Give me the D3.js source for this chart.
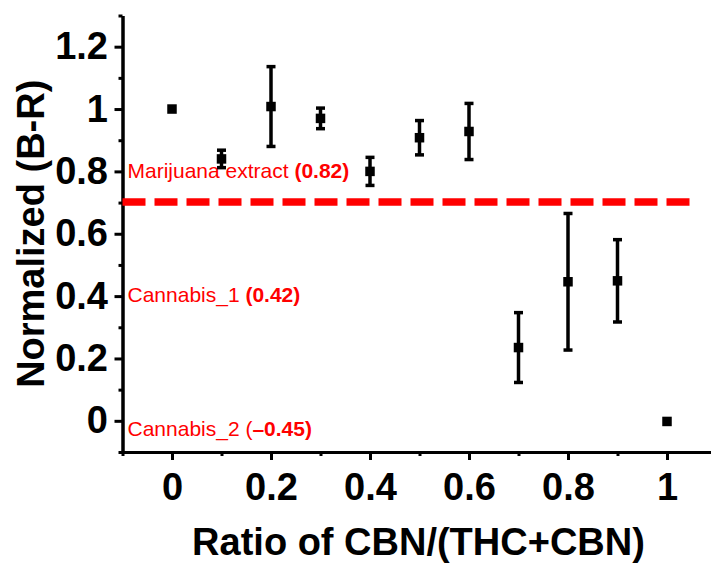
<!DOCTYPE html>
<html>
<head>
<meta charset="utf-8">
<script src="https://cdn.jsdelivr.net/npm/d3@7"></script>
<style>
  html, body { margin: 0; padding: 0; background: #fff; }
  svg { display: block; }
</style>
</head>
<body>
<svg id="chart" width="711" height="563"></svg>
<script>
// data
const ratios = [0, 0.1, 0.2, 0.3, 0.4, 0.5, 0.6, 0.7, 0.8, 0.9, 1.0];
const normBR = [1.0, 0.84, 1.008, 0.97, 0.8, 0.908, 0.928, 0.235, 0.446, 0.449, -0.002];
const errBR = [0, 0.028, 0.128, 0.033, 0.045, 0.055, 0.09, 0.112, 0.219, 0.132, 0];

const xTicks = [0, 0.2, 0.4, 0.6, 0.8, 1];
const xTickLabels = ["0", "0.2", "0.4", "0.6", "0.8", "1"];
const yTicks = [0, 0.2, 0.4, 0.6, 0.8, 1.0, 1.2];
const yTickLabels = ["0", "0.2", "0.4", "0.6", "0.8", "1", "1.2"];

const refValue = 0.702; // dashed red reference line
const noteNames = ["Marijuana extract ", "Cannabis_1 ", "Cannabis_2 ("];
const noteValues = ["(0.82)", "(0.42)", "\u20130.45)"];
const noteLevels = [0.778, 0.382, -0.05];

const svg = d3.select("svg#chart");
const font = "'Liberation Sans', Arial, sans-serif";

const x = d3.scaleLinear().domain([-0.1, 1.1]).range([122.5, 716.5]);
const y = d3.scaleLinear().domain([-0.1, 1.3]).range([452, 15.5]);

const minorX = d3.range(-1, 12).map((i) => i / 10).filter((v) => Math.round(v * 10) % 2 !== 0);
const minorY = d3.range(-1, 14).map((i) => i / 10).filter((v) => Math.round(v * 10) % 2 !== 0);

function styleAxis(g) {
  g.selectAll(".domain").attr("stroke", "#000").attr("stroke-width", 3);
  g.selectAll(".tick line").attr("stroke", "#000").attr("stroke-width", 3);
  g.selectAll(".tick text")
    .attr("fill", "#000")
    .style("font-family", font)
    .style("font-weight", "bold")
    .style("font-size", "38px");
}

// minor ticks first
svg.append("g")
  .attr("transform", `translate(0, ${y(-0.1)})`)
  .call(d3.axisBottom(x).tickValues(minorX).tickSize(4).tickSizeOuter(0).tickFormat(""))
  .call(styleAxis);
svg.append("g")
  .attr("transform", `translate(${x(-0.1)}, 0)`)
  .call(d3.axisLeft(y).tickValues(minorY).tickSize(4).tickSizeOuter(0).tickFormat(""))
  .call(styleAxis);

// major ticks with labels
svg.append("g")
  .attr("class", "x axis")
  .attr("transform", `translate(0, ${y(-0.1)})`)
  .call(
    d3.axisBottom(x)
      .tickValues(xTicks)
      .tickSize(8)
      .tickSizeOuter(0)
      .tickPadding(13)
      .tickFormat((d, i) => xTickLabels[i])
  )
  .call(styleAxis);

svg.append("g")
  .attr("class", "y axis")
  .attr("transform", `translate(${x(-0.1)}, 0)`)
  .call(
    d3.axisLeft(y)
      .tickValues(yTicks)
      .tickSize(8)
      .tickSizeOuter(0)
      .tickPadding(6.5)
      .tickFormat((d, i) => yTickLabels[i])
  )
  .call(styleAxis);

// axis titles
svg.append("text")
  .attr("x", (x(-0.1) + x(1.1)) / 2 - 1)
  .attr("y", 555)
  .attr("text-anchor", "middle")
  .style("font-family", font)
  .style("font-weight", "bold")
  .style("font-size", "38px")
  .text("Ratio of CBN/(THC+CBN)");

svg.append("text")
  .attr("transform", `translate(44, ${(y(-0.1) + y(1.3)) / 2}) rotate(-90)`)
  .attr("text-anchor", "middle")
  .style("font-family", font)
  .style("font-weight", "bold")
  .style("font-size", "38px")
  .text("Normalized (B-R)");

// reference line
svg.append("line")
  .attr("x1", x(-0.1))
  .attr("x2", x(1.055))
  .attr("y1", y(refValue))
  .attr("y2", y(refValue))
  .attr("stroke", "#ff0000")
  .attr("stroke-width", 7.5)
  .attr("stroke-dasharray", "23 9");

// annotations
noteNames.forEach((name, i) => {
  const t = svg.append("text")
    .attr("x", 127.5)
    .attr("y", y(noteLevels[i]))
    .attr("fill", "#ff0000")
    .style("font-family", font)
    .style("font-size", "21px");
  t.append("tspan").text(name);
  t.append("tspan").style("font-weight", "bold").text(noteValues[i]);
});

// error bars and markers
const pts = ratios.map((r, i) => ({ r, v: normBR[i], e: errBR[i] }));
const bars = svg.append("g").selectAll("g").data(pts.filter((d) => d.e > 0)).join("g");
bars.append("line")
  .attr("x1", (d) => x(d.r))
  .attr("x2", (d) => x(d.r))
  .attr("y1", (d) => y(d.v - d.e))
  .attr("y2", (d) => y(d.v + d.e))
  .attr("stroke", "#000")
  .attr("stroke-width", 3.5);
[-1, 1].forEach((s) => {
  bars.append("line")
    .attr("x1", (d) => x(d.r) - 4.5)
    .attr("x2", (d) => x(d.r) + 4.5)
    .attr("y1", (d) => y(d.v + s * d.e))
    .attr("y2", (d) => y(d.v + s * d.e))
    .attr("stroke", "#000")
    .attr("stroke-width", 3.5);
});

svg.append("g")
  .selectAll("rect")
  .data(pts)
  .join("rect")
  .attr("x", (d) => x(d.r) - 4.75)
  .attr("y", (d) => y(d.v) - 4.75)
  .attr("width", 9.5)
  .attr("height", 9.5)
  .attr("fill", "#000");
</script>
</body>
</html>
